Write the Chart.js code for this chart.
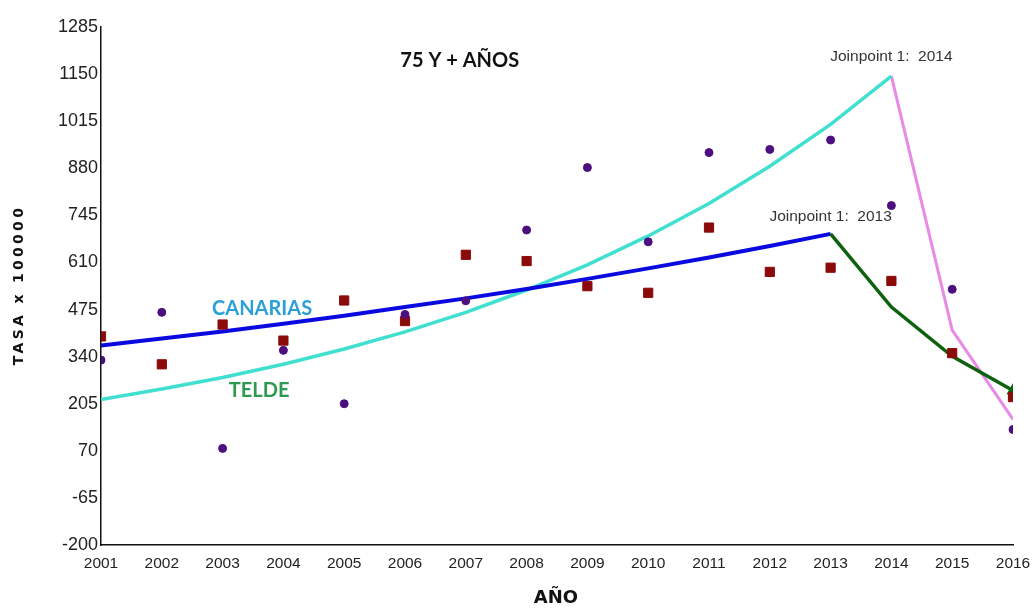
<!DOCTYPE html>
<html lang="es">
<head>
    <meta charset="UTF-8">
    <title>75 Y + AÑOS</title>
    <style>
        body { margin: 0; background: #fff; }
        #wrap { width: 1033px; height: 610px; position: relative; }
    </style>
    <script src="https://cdn.jsdelivr.net/npm/chart.js"></script>
</head>
<body>
    <div id="wrap"><canvas id="grafico"></canvas></div>

    <script>
        // datos
        const years = [2001, 2002, 2003, 2004, 2005, 2006, 2007, 2008, 2009, 2010, 2011, 2012, 2013, 2014, 2015, 2016];
        const yTicks = [-200, -65, 70, 205, 340, 475, 610, 745, 880, 1015, 1150, 1285];

        // tasas observadas
        const teldeObs = [330, 467, 77, 358, 205, 461, 500, 703, 882, 669, 925, 934, 961, 773, 533, 131];
        const canariasObs = [398, 318, 432, 386, 501, 442, 632, 614, 542, 523, 710, 583, 595, 557, 350, 224];

        // tendencias joinpoint
        const canariasYears1 = [2001, 2002, 2003, 2004, 2005, 2006, 2007, 2008, 2009, 2010, 2011, 2012, 2013];
        const canariasFit1 = [372, 392, 412, 434, 457, 482, 507, 534, 563, 593, 624, 657, 692];
        const canariasYears2 = [2013, 2014, 2015, 2016];
        const canariasFit2 = [692, 482, 341, 243];

        const teldeYears1 = [2001, 2002, 2003, 2004, 2005, 2006, 2007, 2008, 2009, 2010, 2011, 2012, 2013, 2014];
        const teldeFit1 = [217, 247, 280, 318, 362, 411, 467, 531, 603, 686, 779, 886, 1006, 1144];
        const teldeYears2 = [2014, 2015, 2016];
        const teldeFit2 = [1144, 416, 160];

        // textos sobre el grafico (posicion en año / valor)
        const textos = [
            { t: "75 Y + AÑOS", x: 2006.9, y: 1190, font: "bold 20px Lato", color: "#111" },
            { t: "CANARIAS", x: 2003.65, y: 479, font: "bold 20px Lato", color: "#2a9fd8" },
            { t: "TELDE", x: 2003.6, y: 243, font: "bold 20px Lato", color: "#2e9a4e" },
            { t: "Joinpoint 1:  2014", x: 2014, y: 1200, font: "15.5px 'Liberation Sans', Arial", color: "#333" },
            { t: "Joinpoint 1:  2013", x: 2013, y: 740, font: "15.5px 'Liberation Sans', Arial", color: "#333" }
        ];

        function pares(xs, ys) {
            return xs.map((x, i) => ({ x: x, y: ys[i] }));
        }

        const textosPlugin = {
            id: 'textos',
            afterDatasetsDraw(chart) {
                const ctx = chart.ctx;
                const sx = chart.scales.x, sy = chart.scales.y;
                ctx.save();
                ctx.textAlign = 'center';
                ctx.textBaseline = 'middle';
                textos.forEach(o => {
                    ctx.font = o.font;
                    ctx.fillStyle = o.color;
                    ctx.fillText(o.t, sx.getPixelForValue(o.x), sy.getPixelForValue(o.y));
                });

                // titulos de los ejes
                ctx.fillStyle = '#111';
                ctx.font = "bold 18px 'DejaVu Sans'";
                ctx.fillText("AÑO", 556, 598);

                ctx.translate(19, 285);
                ctx.rotate(-Math.PI / 2);
                ctx.font = "bold 14px 'DejaVu Sans'";
                ctx.letterSpacing = '3.3px';
                ctx.fillText("TASA x 100000", 0, 0);
                ctx.restore();
            }
        };

        const ctx = document.getElementById('grafico').getContext('2d');
        new Chart(ctx, {
            type: 'line',
            data: {
                datasets: [
                    {
                        label: 'Telde',
                        data: pares(years, teldeObs),
                        showLine: false,
                        pointStyle: 'circle',
                        pointRadius: 4,
                        backgroundColor: '#4b0f80',
                        borderColor: '#4b0f80',
                        order: 0
                    },
                    {
                        label: 'Canarias',
                        data: pares(years, canariasObs),
                        showLine: false,
                        pointStyle: 'rect',
                        pointRadius: 6.5,
                        backgroundColor: '#8b0a0a',
                        borderColor: '#8b0a0a',
                        order: 0
                    },
                    {
                        label: 'Canarias tendencia 1',
                        data: pares(canariasYears1, canariasFit1),
                        borderColor: '#0a0ae0',
                        borderWidth: 4,
                        pointRadius: 0,
                        order: 2
                    },
                    {
                        label: 'Canarias tendencia 2',
                        data: pares(canariasYears2, canariasFit2),
                        borderColor: '#0e620e',
                        backgroundColor: '#0e620e',
                        borderWidth: 3.5,
                        pointStyle: 'triangle',
                        pointRadius: [0, 0, 0, 4],
                        order: 1
                    },
                    {
                        label: 'Telde tendencia 1',
                        data: pares(teldeYears1, teldeFit1),
                        borderColor: '#40e0d0',
                        borderWidth: 3.5,
                        pointRadius: 0,
                        order: 3
                    },
                    {
                        label: 'Telde tendencia 2',
                        data: pares(teldeYears2, teldeFit2),
                        borderColor: '#e88ae6',
                        borderWidth: 3,
                        pointRadius: 0,
                        order: 3
                    }
                ]
            },
            options: {
                responsive: true,
                maintainAspectRatio: false,
                animation: false,
                layout: { padding: { top: 27, right: 20, left: 0, bottom: 0 } },
                plugins: {
                    legend: { display: false },
                    tooltip: { enabled: false }
                },
                scales: {
                    x: {
                        type: 'linear',
                        min: 2001,
                        max: 2016,
                        afterBuildTicks: axis => { axis.ticks = years.map(v => ({ value: v })); },
                        afterFit: axis => { axis.height = 65; axis.paddingRight = 0; axis.paddingLeft = 0; },
                        grid: { display: false, drawTicks: false },
                        border: { display: true, color: '#111', width: 1.5 },
                        ticks: {
                            padding: 9,
                            color: '#222',
                            maxRotation: 0,
                            autoSkip: false,
                            font: { family: "'Liberation Sans', Arial", size: 15.5 },
                            callback: v => String(v)
                        }
                    },
                    y: {
                        min: -200,
                        max: 1285,
                        afterBuildTicks: axis => { axis.ticks = yTicks.map(v => ({ value: v })); },
                        afterFit: axis => { axis.width = 101; },
                        grid: { display: false, drawTicks: false },
                        border: { display: true, color: '#111', width: 1.5 },
                        ticks: {
                            padding: 3,
                            color: '#222',
                            autoSkip: false,
                            font: { family: "'Liberation Sans', Arial", size: 18 },
                            callback: v => String(v)
                        }
                    }
                }
            },
            plugins: [textosPlugin]
        });
    </script>
</body>
</html>
